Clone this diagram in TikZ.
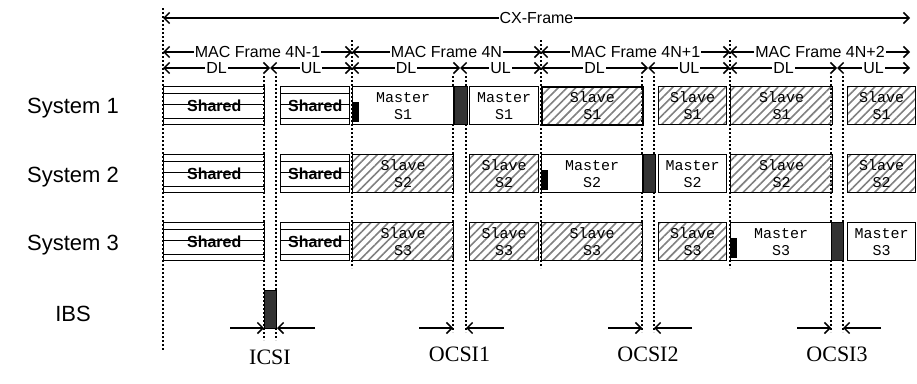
\documentclass[tikz,border=0pt]{standalone}
\usepackage{fontspec}
\setmainfont{Liberation Serif}
\setsansfont{Liberation Sans}
\setmonofont{Liberation Mono}
\usetikzlibrary{arrows.meta, positioning, calc, patterns.meta}
\tikzset{
  every picture/.style={x=1pt, y=-1pt, line width=1.2pt},
  barb/.tip={Straight Barb[length=5.5pt, width=11pt, line width=1.5pt]},
  dim/.style={barb-barb, line width=1.2pt},
  hdr/.style={fill=white, inner sep=1pt, font=\sffamily\fontsize{16}{16}\selectfont},
  sys/.style={font=\sffamily\fontsize{22}{22}\selectfont},
  slot/.style={draw, line width=1.4pt, anchor=north west, minimum height=38pt, minimum width=#1, inner sep=0pt, align=center, font=\ttfamily\fontsize{15}{17}\selectfont},
  master/.style={slot=#1, fill=white},
  slave/.style={slot=#1, pattern={Lines[angle=45, distance=6.2pt, line width=1.6pt]}, pattern color=black!50},
  shared/.style={slot=#1, font=\sffamily\bfseries\fontsize{16}{16}\selectfont,
    path picture={\foreach \f in {0.17,0.47,0.83}
      \draw[line width=1.1pt] ($(path picture bounding box.north west)!\f!(path picture bounding box.south west)$) -- ($(path picture bounding box.north east)!\f!(path picture bounding box.south east)$);}},
  guard/.style={draw, line width=1pt, fill=black!80, anchor=north west, minimum width=#1, minimum height=38pt, inner sep=0pt},
  guard/.default=12pt,
  notch/.style={fill=black, anchor=south west, minimum width=6pt, minimum height=20pt, inner sep=0pt},
  guide/.style={dash pattern=on 2pt off 2pt, line width=1.2pt},
  gap/.style={-barb, line width=1.3pt},
  gaplbl/.style={font=\fontsize{22}{22}\selectfont},
}
\begin{document}
\begin{tikzpicture}
  \useasboundingbox (0,0) rectangle (917,383);
  % time axis: frame boundaries and DL/UL splits
  \foreach \n/\x in {0/163,1/352,2/541,3/730,4/910} \coordinate (mac\n) at (\x,52);
  \foreach \n/\x in {0/163,1/270,2/352,3/460,4/541,5/648,6/730,7/837,8/910} \coordinate (dl\n) at (\x,68);
  \coordinate (cx0) at (163,18);
  \coordinate (cx1) at (910,18);
  % dotted guide lines
  \draw[guide] (163,8) -- (163,350);
  \foreach \x in {352,541,730} \draw[guide] (\x,40) -- (\x,268);
  \foreach \x in {264,276} \draw[guide] (\x,76) -- (\x,340);
  \foreach \x in {453,466,642,654,831,843} \draw[guide] (\x,76) -- (\x,332);
  % header
  \draw[dim] (cx0) -- node[hdr] (cx) {CX-Frame} (cx1);
  \draw[dim] (mac0) -- node[hdr] (macA) {MAC Frame 4N-1} (mac1);
  \draw[dim] (mac1) -- node[hdr] (macB) {MAC Frame 4N} (mac2);
  \draw[dim] (mac2) -- node[hdr] (macC) {MAC Frame 4N+1} (mac3);
  \draw[dim] (mac3) -- node[hdr] (macD) {MAC Frame 4N+2} (mac4);
  \foreach \a/\b [count=\i] in {0/1,2/3,4/5,6/7} {
    \draw[dim] (dl\a) -- node[hdr] (dlt\i) {DL} (dl\b);
  }
  \foreach \a/\b [count=\i] in {1/2,3/4,5/6,7/8} {
    \draw[dim] (dl\a) -- node[hdr] (ult\i) {UL} (dl\b);
  }
  % system labels
  \node[sys] (sys1) at (73,108) {System 1};
  \node[sys] (sys2) at (73,177) {System 2};
  \node[sys] (sys3) at (73,245) {System 3};
  \node[sys] (ibsl) at (73,314) {IBS};
  % shared frame 4N-1
  \foreach \r/\y in {1/86,2/154,3/222} {
    \node[shared=101pt] (sdl\r) at (163,\y) {Shared};
    \node[shared=69pt] (sul\r) at (280,\y) {Shared};
  }
  % system 1
  \node[master=101pt] (a1) at (352,86) {Master\\S1};
  \node[notch] (k1) at ([yshift=3pt]a1.south west) {};
  \node[guard=13pt] (g1) at (a1.north east) {};
  \node[master=69pt] (b1) at (469,86) {Master\\S1};
  \node[slave=101pt] (c1) at (541,86) {Slave\\S1};
  \node[slave=68pt] (d1) at (658,86) {Slave\\S1};
  \node[slave=102pt] (e1) at (730,86) {Slave\\S1};
  \node[slave=68pt] (f1) at (847,86) {Slave\\S1};
  % system 2
  \node[slave=101pt] (a2) at (352,154) {Slave\\S2};
  \node[slave=69pt] (b2) at (469,154) {Slave\\S2};
  \node[master=101pt] (c2) at (541,154) {Master\\S2};
  \node[notch] (k2) at ([yshift=3pt]c2.south west) {};
  \node[guard] (g2) at (c2.north east) {};
  \node[master=68pt] (d2) at (658,154) {Master\\S2};
  \node[slave=102pt] (e2) at (730,154) {Slave\\S2};
  \node[slave=68pt] (f2) at (847,154) {Slave\\S2};
  % system 3
  \node[slave=101pt] (a3) at (352,222) {Slave\\S3};
  \node[slave=69pt] (b3) at (469,222) {Slave\\S3};
  \node[slave=101pt] (c3) at (541,222) {Slave\\S3};
  \node[slave=68pt] (d3) at (658,222) {Slave\\S3};
  \node[master=101pt] (e3) at (730,222) {Master\\S3};
  \node[notch] (k3) at ([yshift=3pt]e3.south west) {};
  \node[guard] (g3) at ([xshift=-1pt]e3.north east) {};
  \node[master=68pt] (f3) at (847,222) {Master\\S3};
  % IBS and guard intervals
  \node[guard, minimum height=38pt] (ibs) at (264,290) {};
  \coordinate (icl) at (230,328);
  \coordinate (icr) at (315,328);
  \draw[gap] (icl) -- (icl -| ibs.west);
  \draw[gap] (icr) -- (icr -| ibs.east);
  \node[gaplbl] (icsi) at (270,357) {ICSI};
  \foreach \l/\r/\i in {453/466/1,642/654/2,831/843/3} {
    \coordinate (oa\i) at (\l,328);
    \coordinate (ob\i) at (\r,328);
    \coordinate (oc\i) at (\l-34,328);
    \coordinate (od\i) at (\r+38,328);
    \draw[gap] (oc\i) -- (oa\i);
    \draw[gap] (od\i) -- (ob\i);
    \node[gaplbl] (ocsi\i) at ($(oa\i)!0.5!(ob\i)+(0,26)$) {OCSI\i};
  }
\end{tikzpicture}
\end{document}
